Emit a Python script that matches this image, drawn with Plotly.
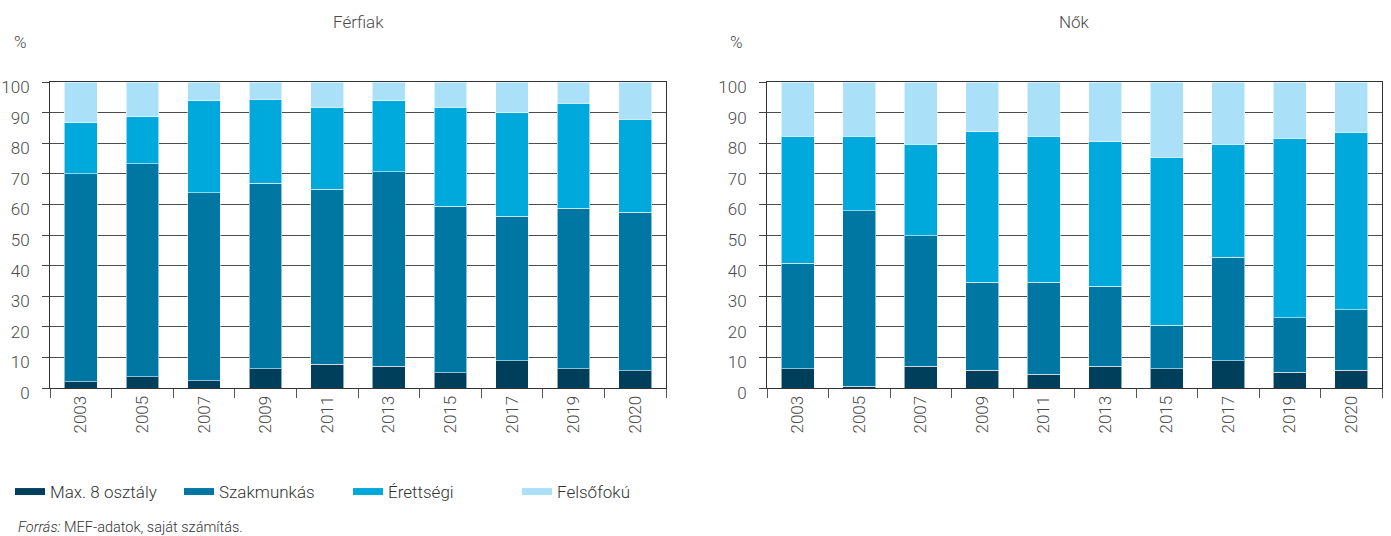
import plotly.graph_objects as go

W, H = 1391, 536

years = ["2003", "2005", "2007", "2009", "2011", "2013", "2015", "2017", "2019", "2020"]
series_names = ["Max. 8 osztály", "Szakmunkás", "Érettségi", "Felsőfokú"]
colors = ["#003f5c", "#0077a3", "#00a9dc", "#abe0f9"]

# Férfiak (men)
men_max8 = [2.0, 3.7, 2.4, 6.3, 7.7, 7.1, 5.0, 8.9, 6.3, 5.7]
men_szak = [68.0, 69.6, 61.4, 60.6, 57.3, 63.6, 54.4, 47.2, 52.4, 51.7]
men_eret = [16.7, 15.3, 30.0, 27.4, 26.8, 23.1, 32.4, 33.8, 34.4, 30.5]
men_fels = [13.3, 11.4, 6.2, 5.7, 8.2, 6.2, 8.2, 10.1, 6.9, 12.1]

# Nők (women)
women_max8 = [6.3, 0.6, 7.1, 5.8, 4.5, 7.1, 6.3, 8.9, 5.1, 5.8]
women_szak = [34.5, 57.4, 42.7, 28.8, 30.1, 26.1, 14.2, 33.8, 17.9, 19.7]
women_eret = [41.4, 24.2, 29.9, 49.1, 47.6, 47.2, 54.9, 37.0, 58.6, 58.1]
women_fels = [17.8, 17.8, 20.3, 16.3, 17.8, 19.6, 24.6, 20.3, 18.4, 16.4]

yticks = [0, 10, 20, 30, 40, 50, 60, 70, 80, 90, 100]

FONT = "Roboto, 'Liberation Sans', sans-serif"
TXT = "#4a4a4a"

def px_x(p):
    return p / W

def px_y(p):
    return 1 - p / H

fig = go.Figure()

men = [men_max8, men_szak, men_eret, men_fels]
women = [women_max8, women_szak, women_eret, women_fels]

for i, name in enumerate(series_names):
    fig.add_trace(go.Bar(x=years, y=men[i], name=name, marker_color=colors[i],
                         marker_line=dict(color="rgba(255,255,255,0.55)", width=1),
                         showlegend=False, xaxis="x", yaxis="y"))
for i, name in enumerate(series_names):
    fig.add_trace(go.Bar(x=years, y=women[i], name=name, marker_color=colors[i],
                         marker_line=dict(color="rgba(255,255,255,0.55)", width=1),
                         showlegend=False, xaxis="x2", yaxis="y2"))
# legend entries (wide flat swatches)
for i, name in enumerate(series_names):
    fig.add_trace(go.Scatter(x=[None], y=[None], mode="lines", name=name,
                             line=dict(color=colors[i], width=7),
                             xaxis="x", yaxis="y", showlegend=True))

xcommon = dict(type="category", showline=True, linecolor="#333", linewidth=1,
               ticks="outside", tickson="boundaries", ticklen=9, tickcolor="#555",
               tickwidth=1, tickangle=-90, mirror=True, automargin=False,
               tickfont=dict(family=FONT, size=17, color=TXT, weight=300),
               showgrid=False)
ycommon = dict(range=[0, 100], tickvals=yticks, showline=True, linecolor="#333",
               linewidth=1, mirror=True, ticks="outside", ticklen=7, tickcolor="#444",
               showgrid=True, gridcolor="#4d4d4d", gridwidth=1, zeroline=False,
               ticklabelshift=5, ticklabelstandoff=9, automargin=False,
               tickfont=dict(family=FONT, size=17, color=TXT, weight=300))

fig.update_layout(
    width=W, height=H,
    margin=dict(l=0, r=0, t=0, b=0, autoexpand=False),
    paper_bgcolor="white", plot_bgcolor="white",
    barmode="stack", bargap=0.47,
    xaxis=dict(domain=[px_x(50), px_x(666)], anchor="y", **xcommon),
    yaxis=dict(domain=[px_y(388), px_y(82)], anchor="x", **ycommon),
    xaxis2=dict(domain=[px_x(767), px_x(1382)], anchor="y2", **xcommon),
    yaxis2=dict(domain=[px_y(388), px_y(82)], anchor="x2", **ycommon),
    legend=dict(orientation="h", x=px_x(10), y=px_y(492), xanchor="left", yanchor="middle",
                traceorder="normal", entrywidth=124, entrywidthmode="pixels",
                font=dict(family=FONT, size=17, color="#333", weight=300),
                itemwidth=30, bgcolor="rgba(0,0,0,0)"),
    showlegend=True,
)

annots = [
    dict(text="Férfiak", x=px_x(358), y=px_y(22)),
    dict(text="Nők", x=px_x(1074), y=px_y(22)),
    dict(text="%", x=px_x(20), y=px_y(42)),
    dict(text="%", x=px_x(736), y=px_y(42)),
]
for a in annots:
    fig.add_annotation(xref="paper", yref="paper", showarrow=False,
                       xanchor="center", yanchor="middle",
                       font=dict(family=FONT, size=17, color=TXT, weight=300), **a)

fig.add_annotation(xref="paper", yref="paper", showarrow=False,
                   x=px_x(16), y=px_y(527), xanchor="left", yanchor="middle",
                   text="<i>Forrás:</i> MEF-adatok, saját számítás.",
                   font=dict(family=FONT, size=14.5, color="#333", weight=300))

post = (
    "var s='margin:0;padding:0;overflow:hidden;';"
    "document.documentElement.style.cssText=s;"
    "document.body.style.cssText=s;"
)

fig.write_html("out.html", config={"displayModeBar": False}, post_script=post)
